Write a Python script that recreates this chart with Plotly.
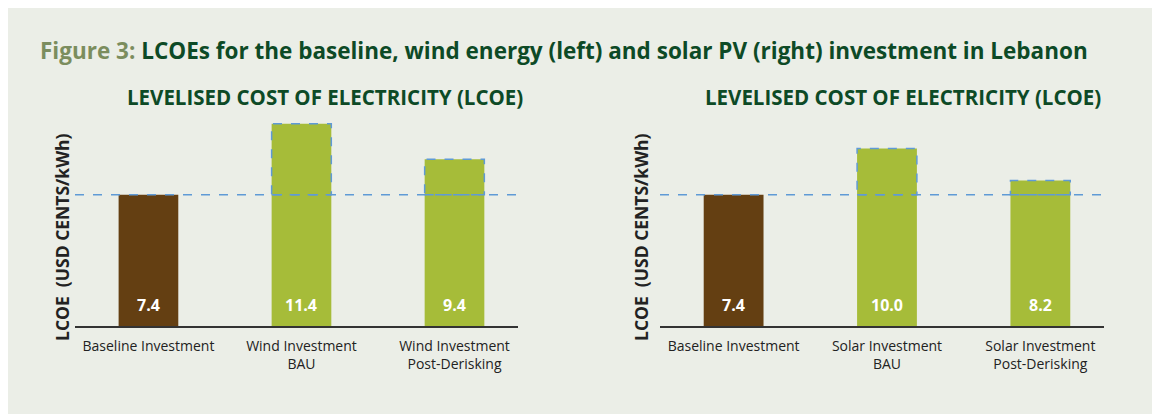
import plotly.graph_objects as go
from plotly.subplots import make_subplots

# Data
wind_labels = ["Baseline Investment", "Wind Investment<br>BAU", "Wind Investment<br>Post-Derisking"]
wind_lcoe = [7.4, 11.4, 9.4]
solar_labels = ["Baseline Investment", "Solar Investment<br>BAU", "Solar Investment<br>Post-Derisking"]
solar_lcoe = [7.4, 10.0, 8.2]
baseline = 7.4

BG = "#ebeee7"
BROWN = "#643f12"
GREEN = "#a6bc39"
DARK_GREEN = "#0d4a26"
DASH_BLUE = "#5f9ad6"
FONT = "Open Sans"
BAR_W = 0.39
W, H = 1160, 414

fig = make_subplots(rows=1, cols=2)

panels = [(wind_labels, wind_lcoe, 1), (solar_labels, solar_lcoe, 2)]
for labels, vals, col in panels:
    xs = list(range(len(vals)))
    colors = [BROWN] + [GREEN] * (len(vals) - 1)
    fig.add_trace(go.Bar(
        x=xs, y=vals, width=BAR_W,
        marker=dict(color=colors, line=dict(width=0)),
        hoverinfo="skip", showlegend=False), row=1, col=col)
    xref = "x" if col == 1 else "x2"
    yref = "y" if col == 1 else "y2"
    # dashed outline on the part above the baseline
    for i, v in enumerate(vals):
        if v > baseline:
            fig.add_shape(type="rect", xref=xref, yref=yref,
                          x0=i - BAR_W / 2, x1=i + BAR_W / 2, y0=baseline, y1=v,
                          line=dict(color=DASH_BLUE, width=1.5, dash="dash"))
        fig.add_annotation(x=i, y=0, xref=xref, yref=yref, text="<b>%.1f</b>" % v,
                           showarrow=False, yanchor="bottom", yshift=8,
                           font=dict(family=FONT, size=16, color="white"))
    # baseline dashed line
    fig.add_shape(type="line", xref=xref + " domain", yref=yref,
                  x0=0, x1=1, y0=baseline, y1=baseline,
                  line=dict(color=DASH_BLUE, width=1.5, dash="dash"))

axis_common = dict(
    tickmode="array", tickvals=[0, 1, 2],
    range=[-0.48, 2.415],
    showline=True, linecolor="#333333", linewidth=1.5,
    showgrid=False, zeroline=False,
    ticks="outside", ticklen=6, tickcolor="rgba(0,0,0,0)",
    tickfont=dict(family=FONT, size=14, color="#222222"),
)
fig.update_xaxes(axis_common)
fig.update_xaxes(ticktext=wind_labels, domain=[67 / W, 510 / W], row=1, col=1)
fig.update_xaxes(ticktext=solar_labels, domain=[652 / W, 1096 / W], row=1, col=2)
fig.update_yaxes(range=[0, 12], visible=False, domain=[1 - 318 / H, 1 - 105 / H])

# y-axis titles
for x in [54 / W, 633 / W]:
    fig.add_annotation(x=x, y=1 - 229 / H, xref="paper", yref="paper",
                       text="<b>LCOE  (USD CENTS/kWh)</b>", textangle=-90,
                       showarrow=False, xanchor="center", yanchor="middle",
                       font=dict(family=FONT, size=17.5, color="#222222"))

# panel subtitles
for x in [317 / W, 895 / W]:
    fig.add_annotation(x=x, y=1 - 89 / H, xref="paper", yref="paper",
                       text="<b>LEVELISED COST OF ELECTRICITY (LCOE)</b>",
                       showarrow=False, xanchor="center", yanchor="middle",
                       font=dict(family=FONT, size=20.5, color=DARK_GREEN))

# figure title
fig.add_annotation(
    x=30 / W, y=1 - 42 / H, xref="paper", yref="paper",
    text="<b><span style='color:#7b8d5e'>Figure 3:</span> LCOEs for the baseline, wind energy (left) "
         "and solar PV (right) investment in Lebanon</b>",
    showarrow=False, xanchor="left", yanchor="middle",
    font=dict(family=FONT, size=22.5, color=DARK_GREEN))

fig.update_layout(
    width=W, height=H,
    margin=dict(l=0, r=0, t=0, b=0),
    paper_bgcolor=BG, plot_bgcolor=BG,
    bargap=0.6,
)

fig.write_html("out.html")
